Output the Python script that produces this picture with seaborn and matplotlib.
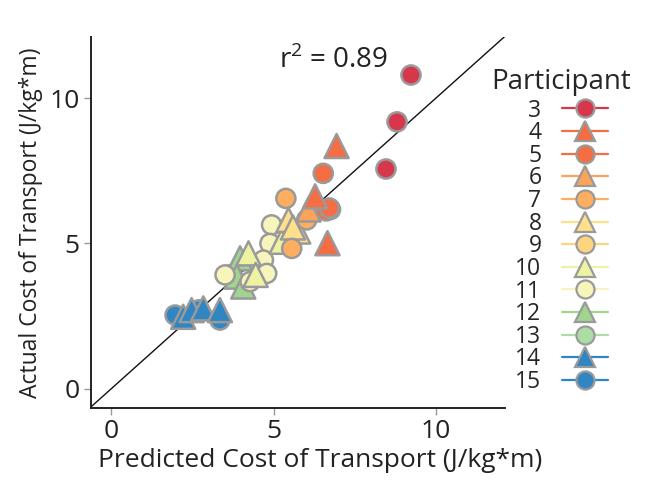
import matplotlib
matplotlib.use("Agg")
import matplotlib.pyplot as plt
from matplotlib.lines import Line2D
import seaborn as sns
import pandas as pd

# ---- data ----
participants = [3, 4, 5, 6, 7, 8, 9, 10, 11, 12, 13, 14, 15]
shapes = ["o", "^", "o", "^", "o", "^", "o", "^", "o", "^", "o", "^", "o"]
colors = ["#d7374a", "#f46d43", "#f46d43", "#fca35a", "#fdae61", "#fee08b", "#fdd47f",
          "#eef3a4", "#f7f5bc", "#9fd58e", "#abdda4", "#2f86c3", "#2f86c3"]

pred = {
    3: [9.23, 8.80, 8.46],
    4: [6.94, 6.66, 6.28],
    5: [6.53, 6.62, 6.72],
    6: [6.05],
    7: [5.38, 6.02, 5.56],
    8: [5.46, 5.76, 5.60],
    9: [6.75],
    10: [5.25, 4.23, 4.45],
    11: [4.94, 4.89, 4.69, 3.51, 4.79, 4.28],
    12: [3.97, 3.87, 4.07],
    13: [3.70],
    14: [2.22, 2.48, 2.84, 3.35],
    15: [1.97, 3.35, 2.70],
}
actual = {
    3: [10.79, 9.18, 7.56],
    4: [8.35, 5.01, 6.62],
    5: [7.41, 6.12, 6.22],
    6: [6.20],
    7: [6.55, 5.81, 4.83],
    8: [5.81, 5.41, 5.55],
    9: [6.20],
    10: [5.06, 4.66, 3.92],
    11: [5.64, 5.00, 4.43, 3.92, 3.97, 3.69],
    12: [4.49, 3.86, 3.52],
    13: [3.95],
    14: [2.48, 2.71, 2.77, 2.71],
    15: [2.54, 2.37, 2.72],
}
r2_text = "r$^2$ = 0.89"
xticks = [0, 5, 10]
yticks = [0, 5, 10]

rows = []
for p in participants:
    for xv, yv in zip(pred[p], actual[p]):
        rows.append({"participant": p, "pred": xv, "actual": yv})
df = pd.DataFrame(rows)
pal = dict(zip(participants, colors))
shape_of = dict(zip(participants, shapes))

sns.set_theme(style="ticks")
plt.rcParams["font.family"] = ["Open Sans", "DejaVu Sans"]
plt.rcParams["mathtext.fontset"] = "custom"
plt.rcParams["mathtext.rm"] = "Open Sans"

fig = plt.figure(figsize=(6.49, 4.92), dpi=100)
ax = fig.add_axes([0.140, 0.171, 0.638, 0.754])

ax.axline((0, 0), slope=1, color="#111111", lw=1.0, zorder=1)

edge = "#9a9a9a"
for p in reversed(participants):
    sub = df[df["participant"] == p]
    if shape_of[p] == "o":
        sns.scatterplot(data=sub, x="pred", y="actual", hue="participant", palette=pal,
                        marker="o", s=190, edgecolor=edge, linewidth=1.8, legend=False,
                        ax=ax, zorder=3)
    else:
        sns.scatterplot(data=sub, x="pred", y="actual", hue="participant", palette=pal,
                        marker="^", s=300, edgecolor=edge, linewidth=1.8, legend=False,
                        ax=ax, zorder=3)

ax.set_xlim(-0.62, 12.12)
ax.set_ylim(-0.65, 12.1)
ax.set_xticks(xticks)
ax.set_yticks(yticks)
ax.tick_params(axis="both", labelsize=19, colors="#222222", length=5, width=1,
               pad=3)
ax.tick_params(axis="both", color="#999999")
for s in ["top", "right"]:
    ax.spines[s].set_visible(False)
for s in ["left", "bottom"]:
    ax.spines[s].set_linewidth(1.4)
    ax.spines[s].set_color("#222222")

ax.set_xlabel("Predicted Cost of Transport (J/kg*m)", fontsize=19, color="#222222")
ax.xaxis.set_label_coords(0.553, -0.108)
ax.set_ylabel("Actual Cost of Transport (J/kg*m)", fontsize=16.5, color="#222222", labelpad=5)
ax.text(6.86, 11.3, r2_text, fontsize=20, ha="center", va="center", color="#222222")

handles = [Line2D([0], [0], color=pal[p], lw=1.6, marker=shape_of[p],
                  markersize=13 if shape_of[p] == "o" else 15,
                  markerfacecolor=pal[p], markeredgecolor=edge, markeredgewidth=1.6)
           for p in participants]
leg = ax.legend(handles, [str(p) for p in participants], title="Participant",
                loc="upper left", bbox_to_anchor=(0.968, 0.915), frameon=False,
                markerfirst=False, fontsize=16.5, title_fontsize=20,
                handlelength=2.0, handletextpad=0.9, labelspacing=-0.06,
                borderaxespad=0, borderpad=0)
leg._legend_box.align = "center"
leg._legend_box.sep = 1.5

fig.savefig("out.png", dpi=100)
